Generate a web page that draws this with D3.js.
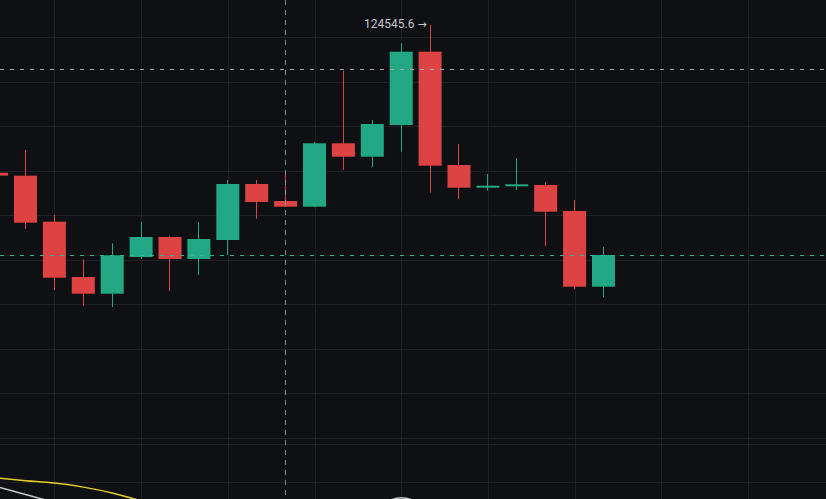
<!DOCTYPE html>
<html><head><meta charset="utf-8">
<script src="https://cdn.jsdelivr.net/npm/d3@7"></script>
<style>html,body{margin:0;padding:0;background:#0f1013;overflow:hidden}</style>
</head><body>
<svg id="c" width="826" height="499"></svg>
<script>
// ---- data (daily candles) ----
const dates = ["2025-07-30","2025-07-31","2025-08-01","2025-08-02","2025-08-03","2025-08-04","2025-08-05","2025-08-06","2025-08-07","2025-08-08","2025-08-09","2025-08-10","2025-08-11","2025-08-12","2025-08-13","2025-08-14","2025-08-15","2025-08-16","2025-08-17","2025-08-18","2025-08-19","2025-08-20"];
const open  = [117900,117766,115699,113213,112463,114112,115011,114022,114876,117393,116629,116373,119223,118620,120045,123339,118247,117227,117290,117348,116180,112777];
const high  = [117950,118921,116000,114009,114728,115699,115056,115672,117573,117573,117901,119281,122472,120270,123717,124545.6,119191,117843,118548,117470,116674,114562];
const low   = [117700,115371,112629,111910,111865,114036,112584,113303,114202,115834,116360,116360,118022,118144,118845,117002,116719,117092,117124,114607,112661,112301];
const close = [117770,115654,113182,112463,114189,115011,114022,114921,117393,116584,116373,119223,118620,120090,123339,118216,117227,117317,117380,116148,112777,114202];
const priceTicks = [124000,122000,120000,118000,116000,114000,112000,110000,108000,106000,104000];
const lineYellow = [104180,104060,103950,103770,103510,103150];
const lineWhite  = [103790,103440,103080,null,null,null,null,null,null,null,null,null,null,102700,103290,102800];
const crossDate = "2025-08-09";
const crossPrice = 122548;
const highLabel = "124545.6 \u2192";

// ---- layout ----
const W = 826, H = 499;
const step = 28.9;
const parse = d3.utcParse("%Y-%m-%d");
const t = dates.map(parse);
const x = d3.scaleUtc().domain([t[0], d3.utcDay.offset(t[0], 28)]).range([-3.4, -3.4 + 28 * step]);
const y = d3.scaleLinear().domain([106000, 124000]).range([437.5, 37]);
const bw = 23;
const UP = "#22a884", DOWN = "#dd4343";
const crisp = v => Math.round(v) + 0.5;

const svg = d3.select("#c");
svg.append("rect").attr("width", W).attr("height", H).attr("fill", "#0f1013");

// grid
const g = svg.append("g");
g.selectAll("line.h").data(priceTicks).join("line").attr("class","h")
  .attr("x1", 0).attr("x2", W).attr("y1", d => crisp(y(d))).attr("y2", d => crisp(y(d)))
  .attr("stroke", "#1e2025").attr("stroke-width", 1);
const gridDates = d3.range(2, 28, 3).map(i => d3.utcDay.offset(t[0], i));
g.selectAll("line.v").data(gridDates).join("line").attr("class","v")
  .attr("x1", d => crisp(x(d))).attr("x2", d => crisp(x(d))).attr("y1", 0).attr("y2", H)
  .attr("stroke", "#1e2025").attr("stroke-width", 1);
g.append("line").attr("x1", 0).attr("x2", W).attr("y1", 444.5).attr("y2", 444.5)
  .attr("stroke", "#1e2025");

// bottom lines
const lineGen = d3.line().defined(d => d != null)
  .x((d, i) => x(d3.utcDay.offset(t[0], i))).y(d => y(d)).curve(d3.curveMonotoneX);
svg.append("path").attr("d", lineGen(lineYellow)).attr("fill", "none")
  .attr("stroke", "#e3cf2a").attr("stroke-width", 1.5);
svg.append("path").attr("d", lineGen(lineWhite)).attr("fill", "none")
  .attr("stroke", "#c9cacf").attr("stroke-width", 1.5);

// candles
const cd = dates.map((d, i) => ({t: t[i], o: open[i], h: high[i], l: low[i], c: close[i]}));
const cg = svg.append("g").selectAll("g").data(cd).join("g");
cg.append("line")
  .attr("x1", d => crisp(x(d.t) - 0.5)).attr("x2", d => crisp(x(d.t) - 0.5))
  .attr("y1", d => y(d.h)).attr("y2", d => y(d.l))
  .attr("stroke", d => d.c >= d.o ? UP : DOWN).attr("stroke-width", 1);
cg.append("rect")
  .attr("x", d => x(d.t) - bw / 2).attr("width", bw)
  .attr("y", d => y(Math.max(d.o, d.c)))
  .attr("height", d => Math.max(1.5, Math.abs(y(d.o) - y(d.c))))
  .attr("fill", d => d.c >= d.o ? UP : DOWN);

// last price line
const last = close[close.length - 1];
svg.append("line").attr("x1", 0).attr("x2", W)
  .attr("y1", crisp(y(last))).attr("y2", crisp(y(last)))
  .attr("stroke", "#2cb596").attr("stroke-dasharray", "4,6");

// crosshair
svg.append("line").attr("x1", 0).attr("x2", W)
  .attr("y1", crisp(y(crossPrice))).attr("y2", crisp(y(crossPrice)))
  .attr("stroke", "#a3a6ad").attr("stroke-dasharray", "4,6");
svg.append("line").attr("x1", crisp(x(parse(crossDate)) - 0.5)).attr("x2", crisp(x(parse(crossDate)) - 0.5))
  .attr("y1", 0).attr("y2", H)
  .attr("stroke", "#9a9da6").attr("stroke-opacity", 0.85).attr("stroke-dasharray", "5,5");

// high label
const hi = d3.maxIndex(high);
const lbl = svg.append("text").attr("x", x(t[hi]) - 3.5).attr("y", y(high[hi]) + 3.6)
  .attr("text-anchor", "end").attr("fill", "#c3c6cd")
  .attr("font-family", "Roboto, 'Noto Sans', sans-serif").attr("font-size", 12);
lbl.append("tspan").text(highLabel.slice(0, -1));
lbl.append("tspan").attr("font-family", "'DejaVu Sans', sans-serif").attr("font-size", 11).text(highLabel.slice(-1));
</script>
</body></html>
